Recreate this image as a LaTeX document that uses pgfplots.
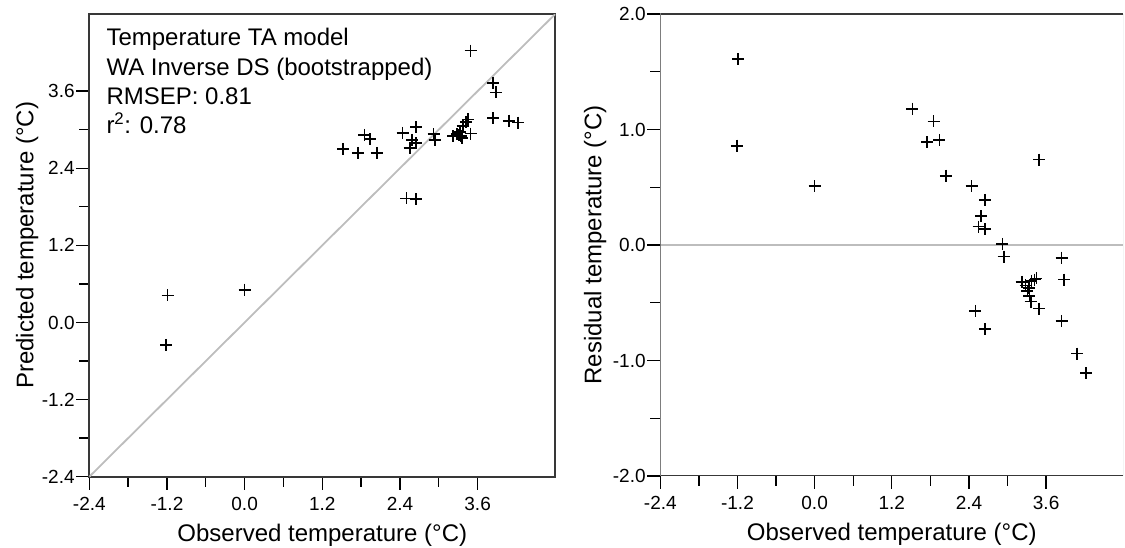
\documentclass[border=0pt]{standalone}
\usepackage{fontspec}
\setmainfont{Liberation Sans}
\usepackage{pgfplots}
\usepackage{pgfplotstable}
\pgfplotsset{compat=1.18}

% observed, predicted, residual (= predicted - observed)
\pgfplotstableread{
obs pred res
-1.19 0.42 1.61
-1.21 -0.35 0.86
0.00 0.51 0.51
1.52 2.70 1.18
1.85 2.92 1.07
1.75 2.64 0.89
1.94 2.85 0.91
2.04 2.64 0.60
2.44 2.95 0.51
2.65 3.04 0.39
2.59 2.84 0.25
2.55 2.71 0.16
2.65 2.79 0.14
2.92 2.93 0.01
2.94 2.84 -0.10
3.49 4.23 0.74
2.50 1.93 -0.57
2.65 1.92 -0.73
3.84 3.73 -0.11
3.88 3.58 -0.30
3.84 3.18 -0.66
4.08 3.14 -0.94
4.22 3.11 -1.11
3.22 2.90 -0.32
3.28 2.93 -0.35
3.33 2.96 -0.37
3.37 3.06 -0.31
3.42 3.12 -0.30
3.45 3.16 -0.29
3.31 2.91 -0.40
3.34 2.90 -0.44
3.36 2.87 -0.49
3.49 2.94 -0.55
}\datatable

\definecolor{refline}{gray}{0.74}
\definecolor{axline}{gray}{0.22}

\pgfplotsset{
  myaxis/.style={
    scale only axis,
    tick align=outside,
    xtick pos=left, ytick pos=left,
    major tick length=13pt,
    minor tick length=10pt,
    every tick/.style={black, line width=1.3pt},
    axis line style={axline, line width=1.8pt},
    tick label style={font=\fontsize{19}{22}\selectfont},
    /pgf/number format/fixed,
    /pgf/number format/fixed zerofill,
    /pgf/number format/precision=1,
    /pgf/number format/assume math mode=true,
    xmin=-2.4, xmax=4.8,
    xtick={-2.4,-1.2,0,1.2,2.4,3.6},
    minor xtick={-1.8,-0.6,0.6,1.8,3.0},
    xticklabel style={inner sep=0pt, yshift=-7pt},
    yticklabel style={inner sep=0pt, xshift=-1.5pt},
    every axis x label/.style={at={([yshift=-65pt]rel axis cs:0.5,0)}, anchor=base, font=\fontsize{24}{28}\selectfont},
    xlabel={Observed temperature (°C)},
  },
  marks/.style={only marks, mark=+, mark size=6pt, mark options={line width=1.7pt, black}},
}

\begin{document}
\begin{tikzpicture}
\begin{axis}[myaxis,
  at={(89.3pt,71.3pt)}, anchor=south west,
  width=466pt, height=462.7pt,
  ymin=-2.4, ymax=4.8,
  ytick={-2.4,-1.2,0,1.2,2.4,3.6},
  minor ytick={-1.8,-0.6,0.6,1.8,3.0},
  every axis y label/.style={at={([xshift=-56pt]rel axis cs:0,0.5)}, rotate=90, anchor=base, font=\fontsize{24}{28}\selectfont},
  ylabel={Predicted temperature (°C)},
]
\addplot[refline, line width=1.8pt] coordinates {(-2.4,-2.4) (4.8,4.8)};
\addplot[marks] table[x=obs, y=pred] {\datatable};
\node[anchor=base west, inner sep=0pt, font=\fontsize{24}{28}\selectfont] at ([xshift=17pt, yshift=-31.5pt]rel axis cs:0,1) {Temperature TA model};
\node[anchor=base west, inner sep=0pt, font=\fontsize{24}{28}\selectfont] at ([xshift=17pt, yshift=-61pt]rel axis cs:0,1) {WA Inverse DS (bootstrapped)};
\node[anchor=base west, inner sep=0pt, font=\fontsize{24}{28}\selectfont] at ([xshift=17pt, yshift=-90.4pt]rel axis cs:0,1) {RMSEP: 0.81};
\node[anchor=base west, inner sep=0pt, font=\fontsize{24}{28}\selectfont] at ([xshift=17pt, yshift=-119.8pt]rel axis cs:0,1) {r\textsuperscript{2}: 0.78};
\end{axis}

\begin{axis}[myaxis,
  at={(660.3pt,72pt)}, anchor=south west,
  width=463pt, height=462pt,
  ymin=-2, ymax=2,
  ytick={-2,-1,0,1,2},
  minor ytick={-1.5,-0.5,0.5,1.5},
  axis line style={draw=none},
  every axis y label/.style={at={([xshift=-59pt]rel axis cs:0,0.5)}, rotate=90, anchor=base, font=\fontsize{24}{28}\selectfont},
  ylabel={Residual temperature (°C)},
]
\addplot[refline, line width=1.8pt] coordinates {(-2.4,0) (4.8,0)};
\addplot[marks] table[x=obs, y=res] {\datatable};
\draw[axline, line width=1.8pt] (rel axis cs:1,1) -- (rel axis cs:0,1) -- (rel axis cs:0,0) -- (rel axis cs:1,0);
\draw[black!12, line width=1.2pt] (rel axis cs:1,0) -- (rel axis cs:1,1);
\end{axis}

\pgfresetboundingbox
\useasboundingbox (0pt,0pt) rectangle (1125pt,548pt);
\end{tikzpicture}
\end{document}
